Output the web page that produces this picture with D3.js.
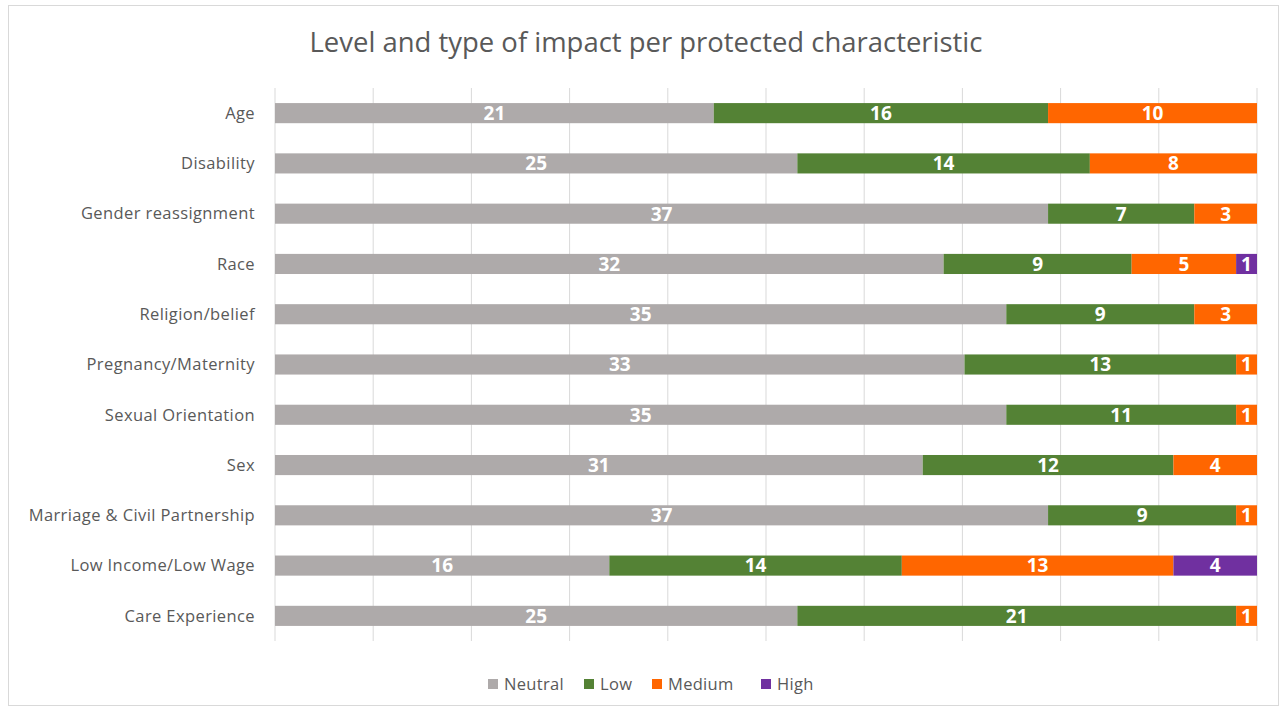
<!DOCTYPE html>
<html><head><meta charset="utf-8">
<script src="https://cdn.jsdelivr.net/npm/d3@7"></script>
<style>body{margin:0;background:#fff;} text{font-family:"Open Sans",sans-serif;}</style>
</head><body><svg id="c" width="1284" height="714"></svg>
<script>
const categories = ["Age","Disability","Gender reassignment","Race","Religion/belief","Pregnancy/Maternity","Sexual Orientation","Sex ","Marriage & Civil Partnership","Low Income/Low Wage","Care Experience"];
const seriesNames = ["Neutral","Low","Medium","High"];
const neutral = [21,25,37,32,35,33,35,31,37,16,25];
const low     = [16,14,7,9,9,13,11,12,9,14,21];
const medium  = [10,8,3,5,3,1,1,4,1,13,1];
const high    = [0,0,0,1,0,0,0,0,0,4,0];
const colors  = ["#AEAAAA","#548235","#FF6600","#7030A0"];
const xTicks  = [0,0.1,0.2,0.3,0.4,0.5,0.6,0.7,0.8,0.9,1];

(function(){
const svg = d3.select("#c");
svg.append("rect").attr("x",8.5).attr("y",5.5).attr("width",1270).attr("height",700)
  .attr("fill","#fff").attr("stroke","#d9d9d9");

const rows = categories.map((c,i)=>({cat:c,Neutral:neutral[i],Low:low[i],Medium:medium[i],High:high[i]}));
const stacked = d3.stack().keys(seriesNames).offset(d3.stackOffsetExpand)(rows);

const pl=275, pr=1257, pt=88, pb=641;
const x = d3.scaleLinear().domain([0,1]).range([pl,pr]);
const y = d3.scaleBand().domain(categories).range([pt,pb]).paddingInner(0.6).paddingOuter(0.3);

svg.append("g").selectAll("line").data(xTicks).join("line")
  .attr("x1",d=>x(d)).attr("x2",d=>x(d)).attr("y1",pt).attr("y2",pb)
  .attr("stroke","#d9d9d9").attr("stroke-width",1);

const title = svg.append("text").attr("x",646).attr("y",52).attr("text-anchor","middle")
  .attr("fill","#595959").style("font-size","24px").style("font-weight","400")
  .text("Level and type of impact per protected characteristic");
const tw = title.node().getComputedTextLength();
title.style("font-size",(24*673/tw).toFixed(2)+"px");

svg.append("g").selectAll("text").data(categories).join("text")
  .attr("x",255).attr("y",d=>y(d)+y.bandwidth()/2).attr("dy","0.35em")
  .attr("text-anchor","end").attr("fill","#595959").style("font-size","16.5px")
  .style("letter-spacing","0.4px")
  .text(d=>d);

const g = svg.append("g");
stacked.forEach((s,si)=>{
  const grp = g.append("g");
  grp.selectAll("rect").data(s).join("rect")
    .attr("x",d=>x(d[0])).attr("width",d=>Math.max(0,x(d[1])-x(d[0])))
    .attr("y",d=>y(d.data.cat)).attr("height",y.bandwidth())
    .attr("fill",colors[si]);
  grp.selectAll("text").data(s.filter(d=>d.data[s.key]>0)).join("text")
    .attr("x",d=>(x(d[0])+x(d[1]))/2).attr("y",d=>y(d.data.cat)+y.bandwidth()/2).attr("dy","0.36em")
    .attr("text-anchor","middle").attr("fill","#fff").style("font-size","19px").style("font-weight","700")
    .text(d=>d.data[s.key]);
});

const legendX = [488,584,652,761];
const lg = svg.append("g");
seriesNames.forEach((n,i)=>{
  lg.append("rect").attr("x",legendX[i]).attr("y",679).attr("width",10).attr("height",10).attr("fill",colors[i]);
  lg.append("text").attr("x",legendX[i]+16).attr("y",684).attr("dy","0.35em").attr("fill","#595959")
    .style("font-size","16.5px").style("letter-spacing","0.3px").text(n);
});
})();
</script></body></html>
